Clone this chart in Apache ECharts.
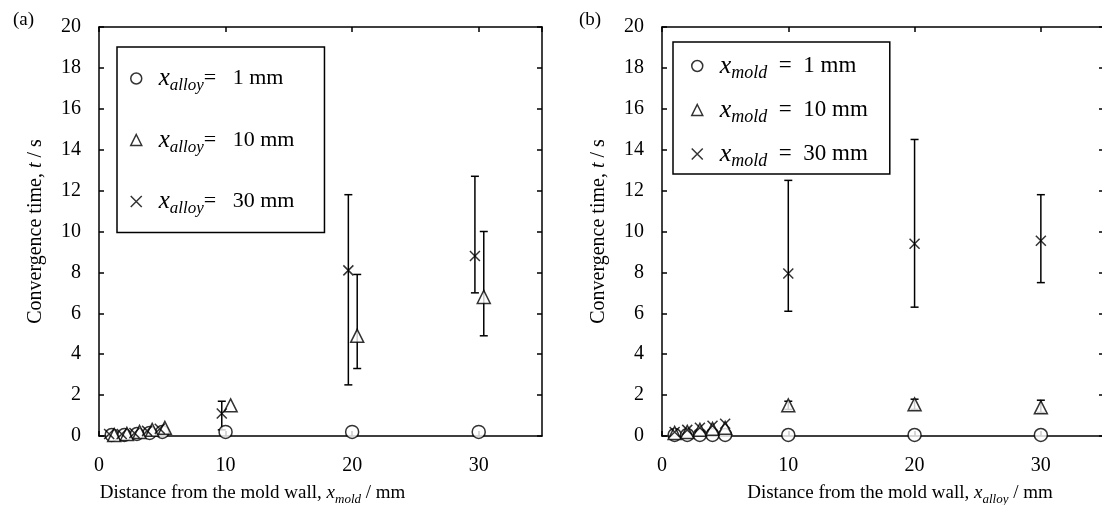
<!DOCTYPE html>
<html>
<head>
<meta charset="utf-8">
<script src="https://cdn.jsdelivr.net/npm/echarts@6/dist/echarts.min.js"></script>
<style>
  html, body { margin: 0; padding: 0; background: #fff; }
  #chart { width: 1102px; height: 505px; }
</style>
</head>
<body>
<div id="chart"></div>
<script>
// ---- (a) x_alloy series, plotted against x_mold ----
var xA1 = [1, 2, 3, 4, 5, 10, 20, 30];
var tA1 = [0.05, 0.05, 0.1, 0.15, 0.2, 0.2, 0.2, 0.2];
var xA10 = [1.2, 2.2, 3.2, 4.2, 5.2, 10.4, 20.4, 30.4];
var tA10 = [0.05, 0.1, 0.2, 0.3, 0.4, 1.5, 4.9, 6.8];
var loA10 = [null, null, null, null, null, null, 3.3, 4.9];
var hiA10 = [null, null, null, null, null, null, 7.9, 10.0];
var xA30 = [0.8, 1.8, 2.8, 3.8, 4.8, 9.7, 19.7, 29.7];
var tA30 = [0.1, 0.1, 0.15, 0.25, 0.35, 1.1, 8.1, 8.8];
var loA30 = [null, null, null, null, null, 0.3, 2.5, 7.0];
var hiA30 = [null, null, null, null, null, 1.7, 11.8, 12.7];

// ---- (b) x_mold series, plotted against x_alloy ----
var xB = [1, 2, 3, 4, 5, 10, 20, 30];
var tB1 = [0.05, 0.05, 0.05, 0.05, 0.05, 0.05, 0.05, 0.05];
var tB10 = [0.15, 0.2, 0.3, 0.35, 0.4, 1.5, 1.55, 1.4];
var loB10 = [null, null, null, null, null, 1.3, 1.3, 1.15];
var hiB10 = [null, null, null, null, null, 1.7, 1.8, 1.75];
var tB30 = [0.2, 0.3, 0.4, 0.5, 0.6, 7.95, 9.4, 9.55];
var loB30 = [null, null, null, null, null, 6.1, 6.3, 7.5];
var hiB30 = [null, null, null, null, null, 12.5, 14.5, 11.8];

var xTicks = [0, 10, 20, 30];

var chartDom = document.getElementById('chart');
var myChart = echarts.init(chartDom);

var FONT = 'Liberation Serif';
var crossPath = 'path://M0,0L10,10M0,10L10,0';

function pts(xs, ys) {
  return xs.map(function (x, i) { return [x, ys[i]]; });
}
function errPts(xs, lo, hi) {
  var out = [];
  xs.forEach(function (x, i) {
    if (lo[i] != null) out.push([x, lo[i], hi[i]]);
  });
  return out;
}

// 误差线
function renderErr(params, api) {
  var x = api.value(0);
  var pLo = api.coord([x, api.value(1)]);
  var pHi = api.coord([x, api.value(2)]);
  var w = 4;
  var st = { stroke: '#000', lineWidth: 1.5 };
  return {
    type: 'group',
    children: [
      { type: 'line', shape: { x1: pLo[0], y1: pLo[1], x2: pHi[0], y2: pHi[1] }, style: st },
      { type: 'line', shape: { x1: pHi[0] - w, y1: pHi[1], x2: pHi[0] + w, y2: pHi[1] }, style: st },
      { type: 'line', shape: { x1: pLo[0] - w, y1: pLo[1], x2: pLo[0] + w, y2: pLo[1] }, style: st }
    ]
  };
}

var axisLineStyle = { color: '#000', width: 1.5 };
var TITLE_FS = 19;

function xAxes(gridIndex, nameRich, pad) {
  return [
    {
      gridIndex: gridIndex,
      type: 'value',
      min: 0, max: 35, interval: 10,
      position: 'bottom',
      axisLine: { show: true, onZero: false, lineStyle: axisLineStyle },
      axisTick: { show: true, inside: true, length: 5, lineStyle: axisLineStyle },
      splitLine: { show: false },
      axisLabel: {
        color: '#000', fontFamily: FONT, fontSize: 20, margin: 20,
        showMaxLabel: false,
        formatter: function (v) { return xTicks.indexOf(v) >= 0 ? String(v) : ''; }
      },
      name: nameRich,
      nameLocation: 'middle',
      nameGap: 44,
      nameTextStyle: {
        color: '#000', fontFamily: FONT, fontSize: TITLE_FS, padding: pad,
        rich: {
          n: { fontFamily: FONT, fontSize: TITLE_FS, color: '#000', lineHeight: 26 },
          i: { fontFamily: FONT, fontSize: TITLE_FS, fontStyle: 'italic', color: '#000', lineHeight: 26 },
          s: { fontFamily: FONT, fontSize: 13, fontStyle: 'italic', color: '#000', verticalAlign: 'bottom', lineHeight: 26 }
        }
      }
    },
    {
      gridIndex: gridIndex,
      type: 'value',
      min: 0, max: 35, interval: 10,
      position: 'top',
      axisLine: { show: true, onZero: false, lineStyle: axisLineStyle },
      axisTick: { show: true, inside: true, length: 5, lineStyle: axisLineStyle },
      splitLine: { show: false },
      axisLabel: { show: false }
    }
  ];
}

function yAxes(gridIndex) {
  return [
    {
      gridIndex: gridIndex,
      type: 'value',
      min: 0, max: 20, interval: 2,
      position: 'left',
      axisLine: { show: true, onZero: false, lineStyle: axisLineStyle },
      axisTick: { show: true, inside: true, length: 5, lineStyle: axisLineStyle },
      splitLine: { show: false },
      axisLabel: { color: '#000', fontFamily: FONT, fontSize: 20, margin: 18 },
      name: '{n|Convergence time, }{i|t}{n| / s}',
      nameLocation: 'middle',
      nameRotate: 90,
      nameGap: 53,
      nameTextStyle: {
        color: '#000', fontFamily: FONT, fontSize: 20,
        rich: {
          n: { fontFamily: FONT, fontSize: 20, color: '#000' },
          i: { fontFamily: FONT, fontSize: 20, fontStyle: 'italic', color: '#000' }
        }
      }
    },
    {
      gridIndex: gridIndex,
      type: 'value',
      min: 0, max: 20, interval: 2,
      position: 'right',
      axisLine: { show: true, onZero: false, lineStyle: axisLineStyle },
      axisTick: { show: true, inside: true, length: 5, lineStyle: axisLineStyle },
      splitLine: { show: false },
      axisLabel: { show: false }
    }
  ];
}

var legendLabels = {
  'a1': '{i|x}{s|alloy}{n|=   1 mm}',
  'a10': '{i|x}{s|alloy}{n|=   10 mm}',
  'a30': '{i|x}{s|alloy}{n|=   30 mm}',
  'b1': '{i|x}{s|mold}{n|  =  1 mm}',
  'b10': '{i|x}{s|mold}{n|  =  10 mm}',
  'b30': '{i|x}{s|mold}{n|  =  30 mm}'
};

function legendRich(fs) {
  return {
    n: { fontFamily: FONT, fontSize: fs, color: '#000', lineHeight: 32 },
    i: { fontFamily: FONT, fontSize: fs + 3, fontStyle: 'italic', color: '#000', lineHeight: 32 },
    s: { fontFamily: FONT, fontSize: fs - 5, fontStyle: 'italic', color: '#000', verticalAlign: 'bottom', lineHeight: 32 }
  };
}

var markerStyle = { color: '#fff', borderColor: '#000', borderWidth: 1.5 };

function scatter(name, data, symbol, size, xi, yi) {
  return {
    name: name,
    type: 'scatter',
    xAxisIndex: xi,
    yAxisIndex: yi,
    symbol: symbol,
    symbolSize: size,
    itemStyle: markerStyle,
    z: 5,
    data: data
  };
}
function errSeries(data, xi, yi) {
  return {
    type: 'custom',
    xAxisIndex: xi,
    yAxisIndex: yi,
    renderItem: renderErr,
    encode: { x: 0, y: [1, 2] },
    z: 2,
    silent: true,
    data: data
  };
}

var option = {
  animation: false,
  backgroundColor: '#fff',
  title: [
    { text: '(a)', left: 8, top: 6, textStyle: { fontFamily: FONT, fontSize: 19, fontWeight: 'normal', color: '#000' } },
    { text: '(b)', left: 574, top: 6, textStyle: { fontFamily: FONT, fontSize: 19, fontWeight: 'normal', color: '#000' } }
  ],
  grid: [
    { left: 99, top: 27, width: 443, height: 409, outerBoundsMode: 'none', containLabel: false },
    { left: 662, top: 27, width: 442, height: 409, outerBoundsMode: 'none', containLabel: false }
  ],
  xAxis: [].concat(
    xAxes(0, '{n|Distance from the mold wall, }{i|x}{s|mold}{n| / mm}', [0, 136, 0, 0]),
    xAxes(1, '{n|Distance from the mold wall, }{i|x}{s|alloy}{n| / mm}', [0, 0, 0, 34])
  ),
  yAxis: [].concat(yAxes(0), yAxes(1)),
  legend: [
    {
      data: ['a1', 'a10', 'a30'],
      orient: 'vertical',
      left: 117, top: 47,
      itemGap: 33,
      itemWidth: 11, itemHeight: 11,
      padding: [19, 30, 15, 13],
      borderColor: '#000', borderWidth: 1.5,
      itemStyle: { borderWidth: 1.5 },
      formatter: function (name) { return legendLabels[name]; },
      textStyle: { padding: [0, 0, 0, 12], rich: legendRich(22) }
    },
    {
      data: ['b1', 'b10', 'b30'],
      orient: 'vertical',
      left: 673, top: 42,
      itemGap: 15,
      itemWidth: 11, itemHeight: 11,
      padding: [11, 22, 4, 18],
      borderColor: '#000', borderWidth: 1.5,
      itemStyle: { borderWidth: 1.5 },
      formatter: function (name) { return legendLabels[name]; },
      textStyle: { padding: [0, 0, 0, 12], rich: legendRich(23) }
    }
  ],
  series: [
    errSeries(errPts(xA10, loA10, hiA10), 0, 0),
    errSeries(errPts(xA30, loA30, hiA30), 0, 0),
    scatter('a1', pts(xA1, tA1), 'circle', 13, 0, 0),
    scatter('a10', pts(xA10, tA10), 'triangle', 13, 0, 0),
    scatter('a30', pts(xA30, tA30), crossPath, 10, 0, 0),

    errSeries(errPts(xB, loB10, hiB10), 2, 2),
    errSeries(errPts(xB, loB30, hiB30), 2, 2),
    scatter('b1', pts(xB, tB1), 'circle', 13, 2, 2),
    scatter('b10', pts(xB, tB10), 'triangle', 13, 2, 2),
    scatter('b30', pts(xB, tB30), crossPath, 10, 2, 2)
  ]
};

myChart.setOption(option);
window.addEventListener('resize', function () {
  myChart.resize();
});
</script>
</body>
</html>
